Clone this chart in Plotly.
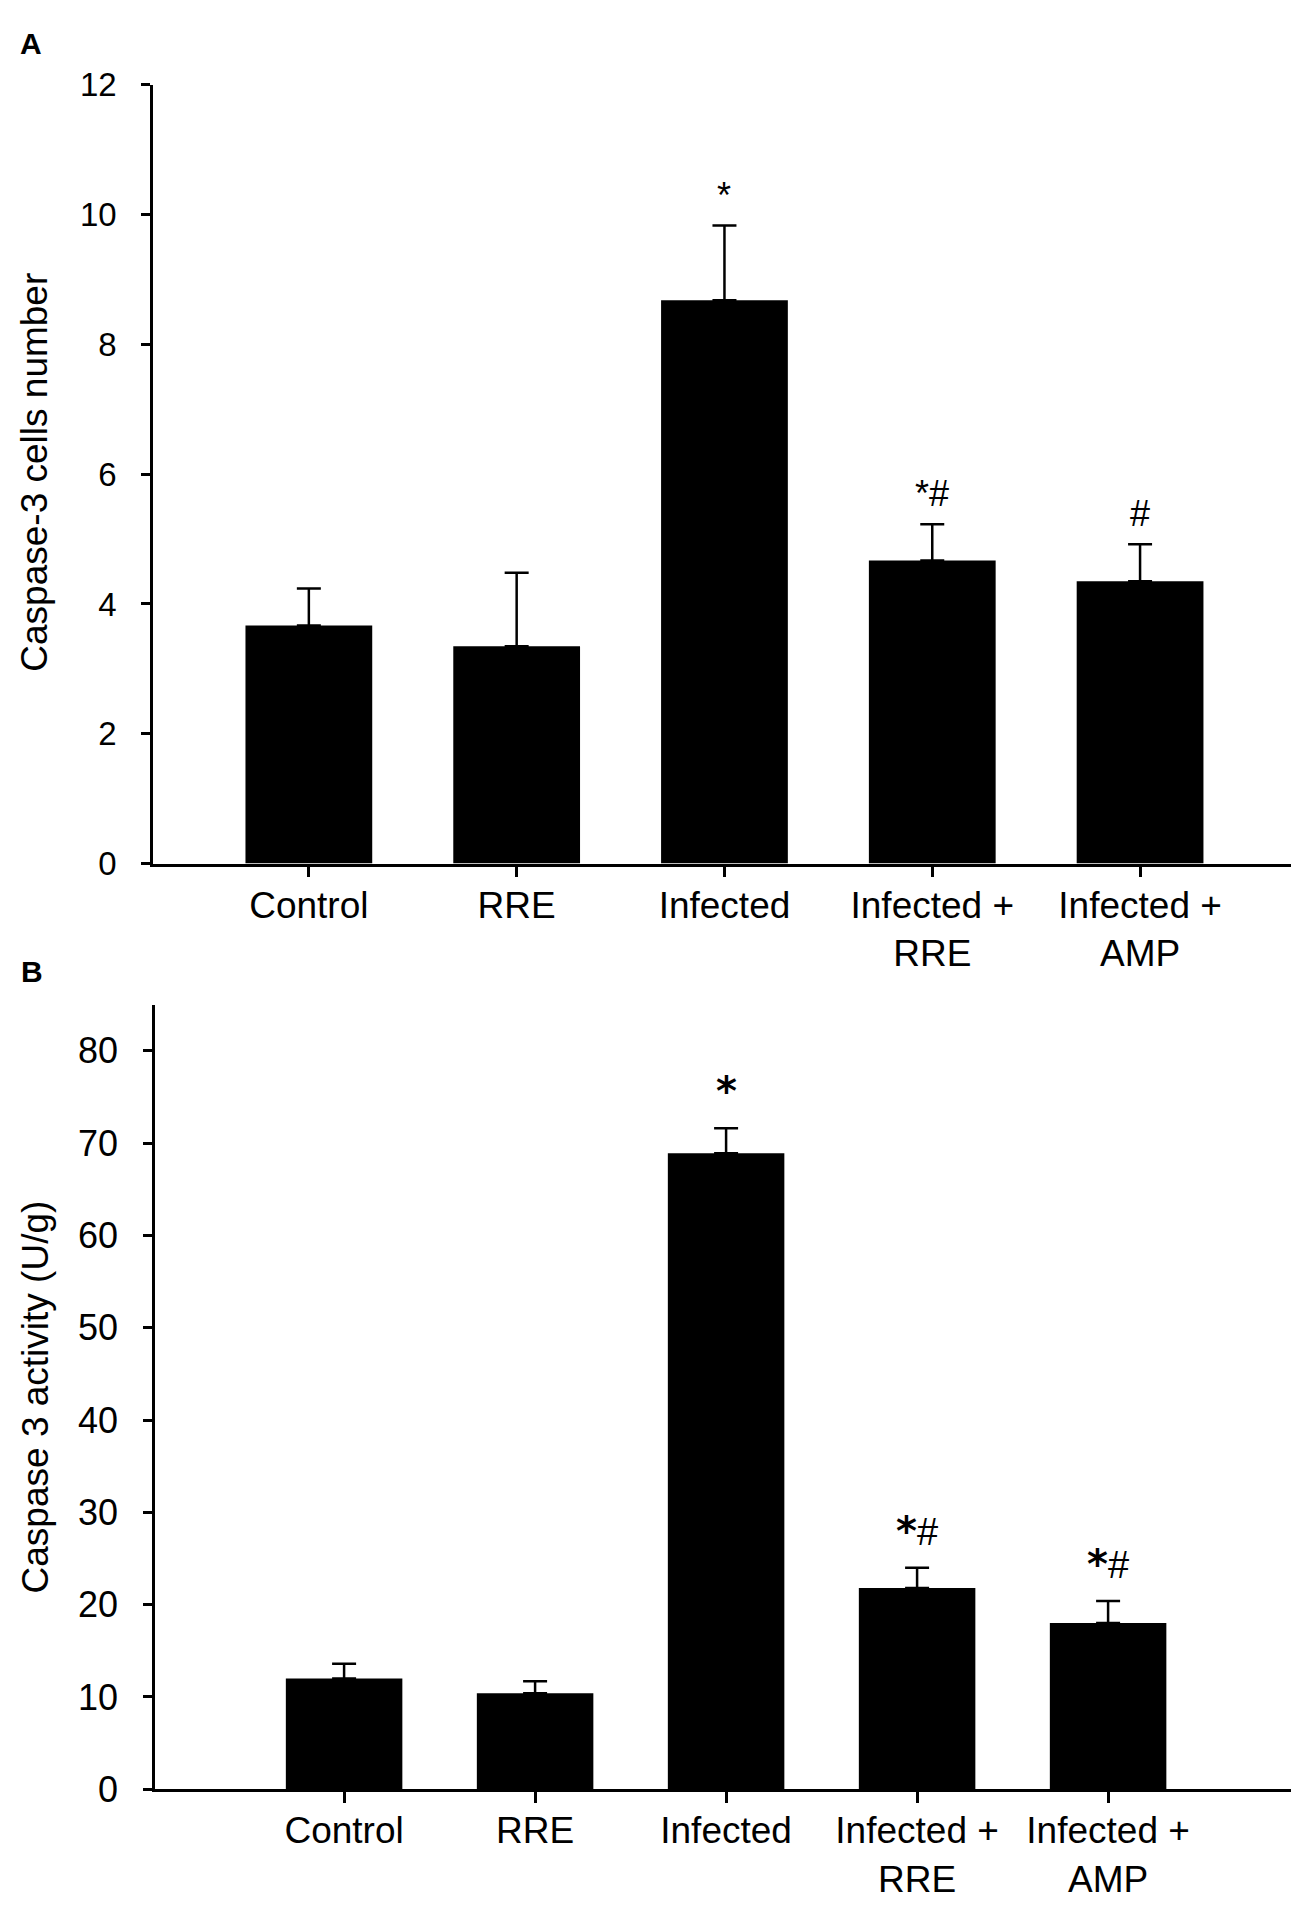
import plotly.graph_objects as go

# categories shown on both panels
groups = ["Control", "RRE", "Infected", "Infected +<br>RRE", "Infected +<br>AMP"]

# panel A: caspase-3 positive cells
cells_mean = [3.67, 3.35, 8.68, 4.67, 4.35]
cells_err = [0.57, 1.13, 1.15, 0.56, 0.57]
cells_sig = ["", "", "*", "*#", "#"]

# panel B: caspase 3 activity (U/g)
activity_mean = [12.0, 10.4, 68.9, 21.8, 18.0]
activity_err = [1.6, 1.3, 2.7, 2.2, 2.4]
activity_sig = ["", "", "*", "*#", "*#"]

W, H = 1299, 1911
FONT = "Liberation Sans, Arial, sans-serif"

fig = go.Figure()

# Panel A bars
fig.add_trace(go.Bar(
    x=list(range(len(groups))), y=cells_mean, width=0.61,
    marker=dict(color="black", line=dict(width=0)),
    error_y=dict(type="data", array=cells_err, arrayminus=[0] * len(groups),
                 symmetric=False, color="black", thickness=2.5, width=12),
    xaxis="x", yaxis="y", showlegend=False,
))

# Panel B bars
fig.add_trace(go.Bar(
    x=list(range(len(groups))), y=activity_mean, width=0.61,
    marker=dict(color="black", line=dict(width=0)),
    error_y=dict(type="data", array=activity_err, arrayminus=[0] * len(groups),
                 symmetric=False, color="black", thickness=2.5, width=12),
    xaxis="x2", yaxis="y2", showlegend=False,
))

annotations = []

# significance marks above the error bars
for i, s in enumerate(cells_sig):
    if s:
        annotations.append(dict(
            x=i, y=cells_mean[i] + cells_err[i], xref="x", yref="y",
            text=s, showarrow=False, xanchor="center", yanchor="bottom", yshift=8,
            font=dict(family=FONT, size=36, color="black"),
        ))
star_b = '<span style="font-family:DejaVu Sans;font-size:40px"><b>*</b></span>'
hash_b = '<span style="font-family:Liberation Sans;font-size:38px">#</span>'
for i, s in enumerate(activity_sig):
    if s:
        txt = "".join(star_b if c == "*" else hash_b for c in s)
        annotations.append(dict(
            x=i, y=activity_mean[i] + activity_err[i], xref="x2", yref="y2",
            text=txt, showarrow=False, xanchor="center", yanchor="bottom", yshift=12,
            font=dict(family=FONT, size=38, color="black"),
        ))

# y axis titles
annotations.append(dict(
    x=27 / W, y=1 - 456 / H, xref="paper", yref="paper", text="Caspase-3 cells number",
    textangle=-90, showarrow=False, xanchor="center", yanchor="middle",
    font=dict(family=FONT, size=37, color="black"),
))
annotations.append(dict(
    x=27 / W, y=1 - 1400 / H, xref="paper", yref="paper", text="Caspase 3 activity (U/g)",
    textangle=-90, showarrow=False, xanchor="center", yanchor="middle",
    font=dict(family=FONT, size=37, color="black"),
))

# panel letters
annotations.append(dict(
    x=10 / W, y=1 - 18 / H, xref="paper", yref="paper", text="<b>A</b>",
    xanchor="left", yanchor="middle", showarrow=False,
    font=dict(family=FONT, size=30, color="black"),
))
annotations.append(dict(
    x=11 / W, y=1 - 965 / H, xref="paper", yref="paper", text="<b>B</b>",
    xanchor="left", yanchor="middle", showarrow=False,
    font=dict(family=FONT, size=30, color="black"),
))

axis_common = dict(
    showline=True, linecolor="black", linewidth=2.5, showgrid=False, zeroline=False,
    ticks="outside", tickcolor="black", tickwidth=2.5,
)

fig.update_layout(
    width=W, height=H,
    margin=dict(l=0, r=0, t=0, b=0),
    paper_bgcolor="white", plot_bgcolor="white",
    font=dict(family=FONT, color="black"),
    xaxis=dict(
        domain=[145 / W, 1290 / W], range=[-0.75, 4.76], anchor="y",
        tickvals=list(range(len(groups))), ticktext=groups, ticklen=11,
        tickfont=dict(size=37), ticklabelstandoff=-4, **axis_common,
    ),
    yaxis=dict(
        domain=[1 - 855 / H, 1 - 60 / H], range=[0, 12], dtick=2, anchor="x",
        ticklen=9, tickfont=dict(size=33), ticklabelstandoff=18, **axis_common,
    ),
    xaxis2=dict(
        domain=[147 / W, 1293 / W], range=[-0.99, 5.01], anchor="y2",
        tickvals=list(range(len(groups))), ticktext=groups, ticklen=11,
        tickfont=dict(size=37), ticklabelstandoff=-4, **axis_common,
    ),
    yaxis2=dict(
        domain=[1 - 1800 / H, 1 - 999 / H], range=[0, 85], dtick=10, anchor="x2",
        ticklen=9, tickfont=dict(size=36), ticklabelstandoff=18, **axis_common,
    ),
    annotations=annotations,
)

fig.write_html("out.html")
